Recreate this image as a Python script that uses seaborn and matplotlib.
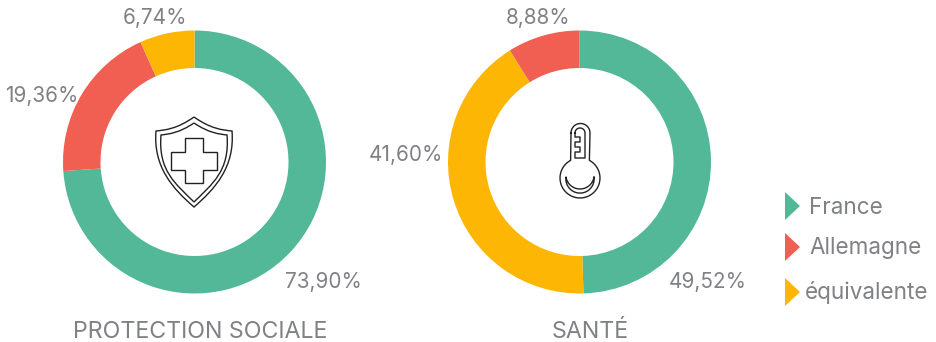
import numpy as np
import matplotlib
matplotlib.use("Agg")
import matplotlib.pyplot as plt
from matplotlib.patches import Polygon, PathPatch
from matplotlib.path import Path
import seaborn as sns

sns.set_theme(style="white")
plt.rcParams['font.family'] = ['Inter', 'DejaVu Sans']

protection_values = [73.90, 19.36, 6.74]
protection_labels = ["73,90%", "19,36%", "6,74%"]
protection_names = ["France", "Allemagne", "équivalente"]
sante_values = [49.52, 41.60, 8.88]
sante_labels = ["49,52%", "41,60%", "8,88%"]
sante_names = ["France", "équivalente", "Allemagne"]
titles = ["PROTECTION SOCIALE", "SANTÉ"]
legend_names = ["France", "Allemagne", "équivalente"]

palette = dict(zip(legend_names, sns.color_palette(["#52B898", "#F05F51", "#FDB604"])))
TEXT = "#808184"
ICON = "#222222"
H = 342

fig = plt.figure(figsize=(9.36, 3.42), dpi=100, facecolor="white")
ax = fig.add_axes([0, 0, 1, 1])

def donut(values, names, cx):
    ax.pie(values, colors=[palette[n] for n in names], startangle=90, counterclock=False,
           center=(cx, H - 162), radius=131.5, frame=True,
           wedgeprops=dict(width=37.5, linewidth=0))

donut(protection_values, protection_names, 194.5)
donut(sante_values, sante_names, 579.5)

ax.set_aspect("equal")
ax.set_xlim(0, 936)
ax.set_ylim(0, H)
ax.axis("off")

def label(x, y, s, ha="center", size=14.9):
    ax.text(x, H - y, s, ha=ha, va="center", color=TEXT, fontsize=size, fontweight="normal")

label(323, 282, protection_labels[0])
label(42, 96, protection_labels[1])
label(155, 18, protection_labels[2])
label(708, 282, sante_labels[0])
label(406, 155, sante_labels[1])
label(538, 18, sante_labels[2])
label(200.5, 332, titles[0], size=16.7)
label(590, 332, titles[1], size=16.7)

# legend
for name, yc, ty, tx in zip(legend_names, [206, 247, 292], [208, 248, 293], [809, 809, 805]):
    ax.add_patch(Polygon([[785, H - yc + 14], [800, H - yc], [785, H - yc - 14]], closed=True,
                         facecolor=palette[name], edgecolor="none"))
    ax.text(tx, H - ty, name, ha="left", va="center", color=TEXT, fontsize=16.2)

# shield icon
def shield(top, corner_x, corner_y, bottom):
    cx = 194
    dx = cx - corner_x
    verts = [(cx, top),
             (cx - dx * 0.45, corner_y - 2), (cx - dx * 0.75, corner_y - 1), (corner_x, corner_y),
             (corner_x - 3, corner_y + 36), (cx - dx * 0.55, bottom - 18), (cx, bottom),
             (cx + dx * 0.55, bottom - 18), (corner_x + 2 * dx + 3, corner_y + 36), (cx + dx, corner_y),
             (cx + dx * 0.75, corner_y - 1), (cx + dx * 0.45, corner_y - 2), (cx, top)]
    verts = [(a, H - b) for a, b in verts]
    codes = [Path.MOVETO] + [Path.CURVE4] * 12
    ax.add_patch(PathPatch(Path(verts, codes), fill=False, edgecolor=ICON, linewidth=1.0))

shield(117, 156, 131, 207)
shield(123, 161, 135, 202)
cross = [(185, 138), (203, 138), (203, 152), (217, 152), (217, 170), (203, 170),
         (203, 183), (185, 183), (185, 170), (171, 170), (171, 152), (185, 152)]
ax.add_patch(Polygon([(a, H - b) for a, b in cross], closed=True, fill=False, edgecolor=ICON, linewidth=1.0))

# thermometer icon (y given downward, flipped on drawing)
def arc(cx, cy, r, a0, a1, n=40):
    t = np.radians(np.linspace(a0, a1, n))
    return cx + r * np.cos(t), cy + r * np.sin(t)

def line(x, y):
    ax.plot(x, H - np.asarray(y), color=ICON, lw=1.0)

x1, y1 = arc(580.5, 133, 9.5, 180, 360)
x2, y2 = arc(580, 178, 20, -62, 242)
line(np.r_[x1, x2, x1[0]], np.r_[y1, y2, y1[0]])
x3, y3 = arc(580, 133, 5, 180, 360)
line(np.r_[x3, 585, 575, 575, 580, 580, 575, 575, 580, 580, 575, x3[0]],
     np.r_[y3, 158, 158, 152, 152, 147, 147, 142, 142, 137, 137, y3[0]])
xa, ya = arc(580, 174.8, 14.2, 9, 171)
xb, yb = arc(580, 179, 14.1, -8, 188)
line(np.r_[xa, xb[::-1], xa[0]], np.r_[ya, yb[::-1], ya[0]])

fig.savefig("out.png", dpi=100, facecolor="white")
